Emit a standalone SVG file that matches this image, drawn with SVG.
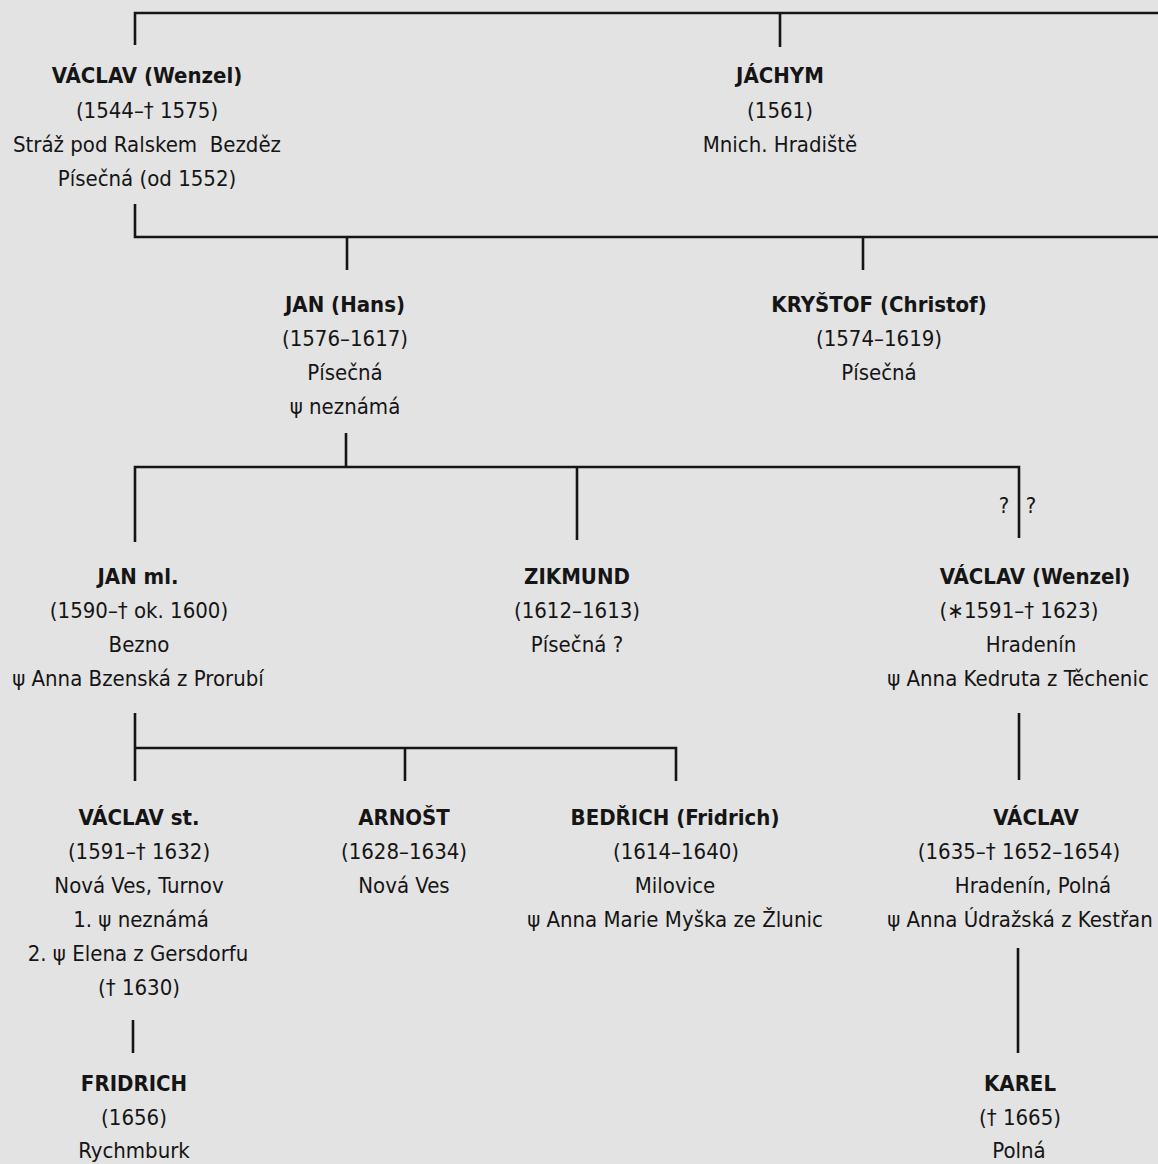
<svg xmlns="http://www.w3.org/2000/svg" width="1158" height="1164" viewBox="0 0 1158 1164">
<style>
text{font-family:"DejaVu Sans Condensed","Liberation Sans Narrow","Liberation Sans",sans-serif;font-size:22px;fill:#151515;text-anchor:middle;white-space:pre}
.n{font-weight:bold}
.c path{fill:none;stroke:#151515;stroke-width:2.6}
</style>
<rect width="1158" height="1164" fill="#e3e3e3"/>
<g class="c" id="connectors">
<path d="M135,45 V13 H1158 M780,13 V47"/>
<path d="M135,204 V237 H1158 M347,237 V270 M863,237 V270"/>
<path d="M346,433 V467 M135,542 V467 H1019 V538 M577,467 V540"/>
<path d="M135,713 V781 M135,748 H676 V781 M405,748 V781"/>
<path d="M1019,713 V780"/>
<path d="M133,1020 V1053"/>
<path d="M1018,948 V1053"/>
</g>
<g id="n-vaclav1">
<text class="n" x="147" y="83">VÁCLAV (Wenzel)</text>
<text x="147" y="118">(1544–† 1575)</text>
<text x="147" y="152">Stráž pod Ralskem  Bezděz</text>
<text x="147" y="186">Písečná (od 1552)</text>
</g>
<g id="n-jachym">
<text class="n" x="780" y="83">JÁCHYM</text>
<text x="780" y="118">(1561)</text>
<text x="780" y="152">Mnich. Hradiště</text>
</g>
<g id="n-jan">
<text class="n" x="345" y="312">JAN (Hans)</text>
<text x="345" y="346">(1576–1617)</text>
<text x="345" y="380">Písečná</text>
<text x="345" y="414">ψ neznámá</text>
</g>
<g id="n-krystof">
<text class="n" x="879" y="312">KRYŠTOF (Christof)</text>
<text x="879" y="346">(1574–1619)</text>
<text x="879" y="380">Písečná</text>
</g>
<g id="q-labels">
<text x="1004" y="513">?</text>
<text x="1031" y="513">?</text>
</g>
<g id="n-janml">
<text class="n" x="138" y="584">JAN ml.</text>
<text x="139" y="618">(1590–† ok. 1600)</text>
<text x="139" y="652">Bezno</text>
<text x="138" y="686">ψ Anna Bzenská z Prorubí</text>
</g>
<g id="n-zikmund">
<text class="n" x="577" y="584">ZIKMUND</text>
<text x="577" y="618">(1612–1613)</text>
<text x="577" y="652">Písečná ?</text>
</g>
<g id="n-vaclav2">
<text class="n" x="1035" y="584">VÁCLAV (Wenzel)</text>
<text x="1019" y="618">(∗1591–† 1623)</text>
<text x="1031" y="652">Hradenín</text>
<text x="1018" y="686">ψ Anna Kedruta z Těchenic</text>
</g>
<g id="n-vaclavst">
<text class="n" x="139" y="825">VÁCLAV st.</text>
<text x="139" y="859">(1591–† 1632)</text>
<text x="139" y="893">Nová Ves, Turnov</text>
<text x="141" y="927">1. ψ neznámá</text>
<text x="138" y="961">2. ψ Elena z Gersdorfu</text>
<text x="139" y="995">(† 1630)</text>
</g>
<g id="n-arnost">
<text class="n" x="404" y="825">ARNOŠT</text>
<text x="404" y="859">(1628–1634)</text>
<text x="404" y="893">Nová Ves</text>
</g>
<g id="n-bedrich">
<text class="n" x="675" y="825">BEDŘICH (Fridrich)</text>
<text x="676" y="859">(1614–1640)</text>
<text x="675" y="893">Milovice</text>
<text x="675" y="927">ψ Anna Marie Myška ze Žlunic</text>
</g>
<g id="n-vaclav3">
<text class="n" x="1036" y="825">VÁCLAV</text>
<text x="1019" y="859">(1635–† 1652–1654)</text>
<text x="1033" y="893">Hradenín, Polná</text>
<text x="1020" y="927">ψ Anna Údražská z Kestřan</text>
</g>
<g id="n-fridrich">
<text class="n" x="134" y="1091">FRIDRICH</text>
<text x="134" y="1125">(1656)</text>
<text x="134" y="1158">Rychmburk</text>
</g>
<g id="n-karel">
<text class="n" x="1020" y="1091">KAREL</text>
<text x="1020" y="1125">(† 1665)</text>
<text x="1019" y="1158">Polná</text>
</g>
</svg>
